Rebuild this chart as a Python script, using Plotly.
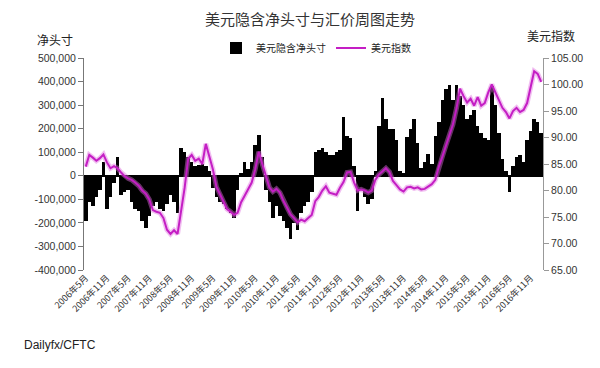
import plotly.graph_objects as go

# month index 0 = 2006-05 ... 129 = 2017-02
net_position_k = [
    -190, -110, -130, -90, -60, 60, -140, -90, -30, 80,
    -80, -70, -60, -110, -140, -150, -190, -220, -170, -130,
    -110, -140, -150, -120, -80, -110, -160, 120, 100, 80,
    60, 40, 45, 50, 40, 20, -50, -90, -110, -120,
    -140, -160, -180, -60, 10, 60, 30, 60, 130, 175,
    80, -60, -110, -180, -130, -170, -190, -220, -270, -200,
    -230, -160, -130, -110, -70, 100, 110, 120, 100, 90,
    90, 100, 110, 250, 170, 160, 40, -150, -60, -90,
    -120, -100, 20, 210, 330, 240, 200, 200, 150, 20,
    10, 165, 200, 240, 140, 35, 60, 92, 50, 170,
    230, 320, 370, 385, 320, 385, 340, 300, 240, 260,
    280, 210, 180, 160, 150, 380, 300, 180, 70, 20,
    -70, 40, 80, 90, 60, 150, 190, 240, 230, 180,
]
dollar_index = [
    84.5, 86.7, 86.2, 85.6, 86.1, 86.8, 85.3, 84.2, 84.6, 84.2,
    83.4, 82.7, 82.3, 82.0, 81.5, 80.9, 80.0, 79.4, 78.3, 76.3,
    76.0, 75.8, 74.8, 72.6, 71.8, 72.5, 71.8, 76.0, 80.5, 86.0,
    86.7, 85.6, 86.0, 85.0, 88.8, 86.4, 84.0, 80.7, 79.2, 77.9,
    76.5, 76.0, 75.4, 75.8, 77.8, 79.0, 80.3, 81.5, 84.0, 87.3,
    85.0, 82.6, 80.6, 79.8, 80.3, 79.6, 78.0, 76.8, 75.5, 74.8,
    74.0, 74.5, 74.2, 74.8, 75.4, 78.0, 78.8, 80.0, 80.8, 79.6,
    79.4, 79.2, 80.5, 81.6, 83.4, 83.5, 81.5, 80.0, 80.2, 80.0,
    79.6, 80.0, 82.0, 83.0, 83.6, 84.2, 83.5, 81.8, 81.0, 80.2,
    79.8, 80.6, 80.7, 80.4, 80.6, 80.2, 80.3, 80.8, 81.2, 82.0,
    84.5, 86.4, 88.5, 90.5, 92.5, 95.5, 99.2, 97.8, 96.6, 97.3,
    96.0, 97.6, 96.0, 96.5, 98.5, 100.0, 98.5, 97.0, 95.6, 94.8,
    93.6, 95.0, 95.6, 94.8, 95.2, 96.5, 99.5, 102.5, 102.0, 100.5,
]
x_tick_labels = [
    "2006年5月", "2006年11月", "2007年5月", "2007年11月", "2008年5月", "2008年11月",
    "2009年5月", "2009年11月", "2010年5月", "2010年11月", "2011年5月", "2011年11月",
    "2012年5月", "2012年11月", "2013年5月", "2013年11月", "2014年5月", "2014年11月",
    "2015年5月", "2015年11月", "2016年5月", "2016年11月",
]
left_tick_values = [-400000, -300000, -200000, -100000, 0, 100000, 200000, 300000, 400000, 500000]
left_tick_labels = ["-400,000", "-300,000", "-200,000", "-100,000", "0",
                    "100,000", "200,000", "300,000", "400,000", "500,000"]
right_tick_values = [65, 70, 75, 80, 85, 90, 95, 100, 105]
right_tick_labels = ["65.00", "70.00", "75.00", "80.00", "85.00", "90.00", "95.00", "100.00", "105.00"]

months = list(range(len(net_position_k)))
net_position = [v * 1000 for v in net_position_k]
x_tick_vals = [i * 6 for i in range(len(x_tick_labels))]

fig = go.Figure()
fig.add_trace(go.Bar(
    x=months, y=net_position, name="美元隐含净头寸",
    marker=dict(color="#000000", line=dict(width=0)), yaxis="y",
))
fig.add_trace(go.Scatter(
    x=months, y=dollar_index, mode="lines", showlegend=False, hoverinfo="skip",
    line=dict(color="rgba(225,110,225,0.45)", width=5), yaxis="y2",
))
fig.add_trace(go.Scatter(
    x=months, y=dollar_index, mode="lines", name="美元指数",
    line=dict(color="#C41EC4", width=2), yaxis="y2",
))

tick_font = dict(family="Liberation Sans, Arial, Noto Sans CJK SC", size=10.5, color="#333333")
fig.update_layout(
    width=600, height=368,
    margin=dict(l=84, r=57, t=58, b=98, autoexpand=False),
    paper_bgcolor="white", plot_bgcolor="white",
    bargap=0,
    showlegend=True,
    legend=dict(orientation="h", x=216 / 600, y=1 - 48 / 368, xref="container", yref="container",
                xanchor="left", yanchor="middle",
                font=dict(family="Noto Sans CJK SC", size=10, color="#222222"),
                bgcolor="rgba(0,0,0,0)", itemwidth=30, tracegroupgap=0),
    xaxis=dict(range=[-0.5, 129.5], tickmode="array", tickvals=x_tick_vals,
               ticktext=x_tick_labels, tickangle=-45, showgrid=False, showline=False,
               zeroline=False, ticks="", automargin=False,
               tickfont=dict(family="Noto Sans CJK SC", size=9, color="#333333")),
    yaxis=dict(range=[-400000, 500000], tickmode="array", tickvals=left_tick_values,
               ticktext=left_tick_labels, showgrid=False, showline=True, linecolor="#777777",
               linewidth=1, ticks="outside", ticklen=5, tickcolor="#777777", automargin=False,
               zeroline=True, zerolinecolor="#000000", zerolinewidth=1.5,
               tickfont=tick_font),
    yaxis2=dict(range=[65, 105], overlaying="y", side="right", tickmode="array",
                tickvals=right_tick_values, ticktext=right_tick_labels, showgrid=False,
                showline=True, linecolor="#999999", linewidth=1, ticks="outside", automargin=False,
                ticklen=5, tickcolor="#999999", zeroline=False, tickfont=tick_font),
    title=dict(text="美元隐含净头寸与汇价周图走势", x=310 / 600, xanchor="center",
               y=1 - 20 / 368, yanchor="middle", automargin=False,
               font=dict(family="Noto Sans CJK SC", size=15, color="#333333")),
    annotations=[
        dict(text="净头寸", xref="paper", yref="paper", x=(55 - 84) / 459, y=(270 - 40) / 212,
             xanchor="center", yanchor="middle", showarrow=False,
             font=dict(family="Noto Sans CJK SC", size=12, color="#222222")),
        dict(text="美元指数", xref="paper", yref="paper", x=(551 - 84) / 459, y=(270 - 35) / 212,
             xanchor="center", yanchor="middle", showarrow=False,
             font=dict(family="Noto Sans CJK SC", size=12, color="#222222")),
        dict(text="Dailyfx/CFTC", xref="paper", yref="paper", x=(22 - 84) / 459,
             y=(270 - 345) / 212, xanchor="left", yanchor="middle", showarrow=False,
             font=dict(family="Liberation Sans, Arial", size=12, color="#222222")),
    ],
)

fig.write_html(
    "out.html",
    config={"displayModeBar": False},
    post_script="document.body.style.margin='0';document.body.style.padding='0';",
)
